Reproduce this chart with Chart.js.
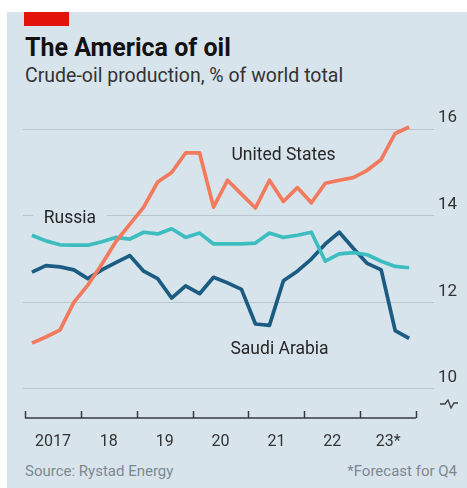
<!DOCTYPE html>
<html>
<head>
<meta charset="utf-8">
<script src="https://cdn.jsdelivr.net/npm/chart.js@4"></script>
<style>
  body { margin: 0; background: #fff; }
  #wrap { position: relative; width: 467px; height: 488px; overflow: hidden; font-family: Roboto, sans-serif; }
  #panel { position: absolute; left: 7px; top: 12px; width: 460px; height: 476px; background: #d8e4ec; }
  #redbar { position: absolute; left: 24px; top: 12px; width: 45px; height: 14px; background: #e3120b; }
  .txt { position: absolute; white-space: nowrap; line-height: 1; }
  #title { left: 25px; top: 35px; font-size: 25px; font-weight: bold; color: #121212; }
  #subtitle { left: 25px; top: 66px; font-size: 19.5px; color: #333; }
  #source { left: 25px; top: 464px; font-size: 15px; color: #7d8890; }
  #note { right: 10px; top: 464px; font-size: 15px; color: #7d8890; }
  canvas { position: absolute; left: 0; top: 0; }
</style>
</head>
<body>
<div id="wrap">
  <div id="panel"></div>
  <div id="redbar"></div>
  <div class="txt" id="title">The America of oil</div>
  <div class="txt" id="subtitle">Crude-oil production, % of world total</div>
  <div class="txt" id="source">Source: Rystad Energy</div>
  <div class="txt" id="note">*Forecast for Q4</div>
  <canvas id="chart" width="467" height="488"></canvas>
</div>
<script>
// quarterly shares, 2017 Q1 to 2023 Q4
const yearLabels = ['2017', '18', '19', '20', '21', '22', '23*'];
const yTicks = [10, 12, 14, 16];

const unitedStates = [11.06, 11.2, 11.36, 12.0, 12.4, 12.88, 13.4, 13.8, 14.2, 14.78, 15.0, 15.45, 15.45, 14.2,
  14.82, 14.5, 14.18, 14.82, 14.33, 14.65, 14.3, 14.75, 14.82, 14.88, 15.05, 15.3, 15.9, 16.05];
const russia = [13.55, 13.42, 13.33, 13.32, 13.32, 13.4, 13.5, 13.46, 13.62, 13.58, 13.7, 13.5, 13.6, 13.35,
  13.35, 13.35, 13.37, 13.6, 13.5, 13.55, 13.62, 12.95, 13.12, 13.15, 13.1, 12.95, 12.83, 12.8];
const saudiArabia = [12.7, 12.85, 12.82, 12.75, 12.55, 12.75, 12.92, 13.08, 12.72, 12.55, 12.1, 12.38, 12.2, 12.58,
  12.45, 12.3, 11.5, 11.47, 12.5, 12.72, 13.0, 13.35, 13.62, 13.25, 12.9, 12.75, 11.35, 11.17];

// each point sits in the middle of its quarter
const toPoints = (arr) => arr.map((v, i) => ({ x: i + 0.5, y: v }));

const seriesLabels = [
  { text: 'United States', x: 14.78, y: 15.4, bg: false },
  { text: 'Russia', x: 1.35, y: 13.94, bg: true },
  { text: 'Saudi Arabia', x: 14.71, y: 10.9, bg: false }
];

const labelPlugin = {
  id: 'seriesLabels',
  beforeDatasetsDraw(chart) {
    const { ctx, scales: { x, y } } = chart;
    ctx.save();
    ctx.font = '17.5px Roboto, sans-serif';
    ctx.textBaseline = 'middle';
    seriesLabels.forEach(l => {
      const px = x.getPixelForValue(l.x);
      const py = y.getPixelForValue(l.y);
      const w = ctx.measureText(l.text).width;
      if (l.bg) {
        ctx.fillStyle = '#d8e4ec';
        ctx.fillRect(px - 11, py - 10, w + 22, 20);
      }
      ctx.fillStyle = '#262626';
      ctx.fillText(l.text, px, py);
    });
    ctx.restore();
  }
};

const axisPlugin = {
  id: 'yearAxis',
  afterDatasetsDraw(chart) {
    const { ctx, chartArea, scales: { x } } = chart;
    const base = chartArea.bottom;
    ctx.save();
    ctx.strokeStyle = '#3a3a3a';
    ctx.lineWidth = 1.5;
    ctx.beginPath();
    ctx.moveTo(x.getPixelForValue(0), base);
    ctx.lineTo(x.getPixelForValue(28), base);
    for (let q = 0; q <= 28; q += 4) {
      const px = Math.round(x.getPixelForValue(q)) + 0.5;
      ctx.moveTo(px, base);
      ctx.lineTo(px, base - 7);
    }
    ctx.stroke();
    // axis break mark
    const bx = chartArea.right + 6;
    const by = base - 14;
    ctx.lineWidth = 1.3;
    ctx.beginPath();
    ctx.moveTo(bx, by);
    ctx.lineTo(bx + 5, by);
    ctx.lineTo(bx + 8, by - 4);
    ctx.lineTo(bx + 11, by + 4);
    ctx.lineTo(bx + 14, by - 1);
    ctx.lineTo(bx + 18, by - 1);
    ctx.stroke();
    ctx.restore();
  }
};

new Chart(document.getElementById('chart'), {
  type: 'line',
  data: {
    datasets: [
      { label: 'United States', data: toPoints(unitedStates), borderColor: '#f27b5d' },
      { label: 'Russia', data: toPoints(russia), borderColor: '#3dbdc0' },
      { label: 'Saudi Arabia', data: toPoints(saudiArabia), borderColor: '#1c5b82' }
    ]
  },
  options: {
    responsive: false,
    animation: false,
    layout: { padding: { left: 23, top: 114, right: 0, bottom: 0 } },
    elements: {
      line: { borderWidth: 3.7, tension: 0, borderJoinStyle: 'round', borderCapStyle: 'butt' },
      point: { radius: 0 }
    },
    plugins: { legend: { display: false }, tooltip: { enabled: false } },
    scales: {
      x: {
        type: 'linear',
        min: -0.14,
        max: 29.28,
        border: { display: false },
        grid: { display: false, drawTicks: false },
        afterBuildTicks(scale) {
          scale.ticks = yearLabels.map((_, i) => ({ value: i * 4 + 2 }));
        },
        afterFit(scale) { scale.height = 70; },
        ticks: {
          autoSkip: false,
          maxRotation: 0,
          padding: 14,
          color: '#333',
          font: { family: 'Roboto', size: 16 },
          callback: (v) => yearLabels[(v - 2) / 4]
        }
      },
      y: {
        position: 'right',
        min: 9.33,
        max: 16.35,
        border: { display: false },
        grid: { color: '#b8c5cd', lineWidth: 1, drawTicks: false },
        afterBuildTicks(scale) {
          scale.ticks = yTicks.map(v => ({ value: v }));
        },
        afterFit(scale) { scale.width = 33; },
        ticks: {
          padding: 4,
          labelOffset: -11,
          color: '#333',
          font: { family: 'Roboto', size: 17 }
        }
      }
    }
  },
  plugins: [labelPlugin, axisPlugin]
});
</script>
</body>
</html>
